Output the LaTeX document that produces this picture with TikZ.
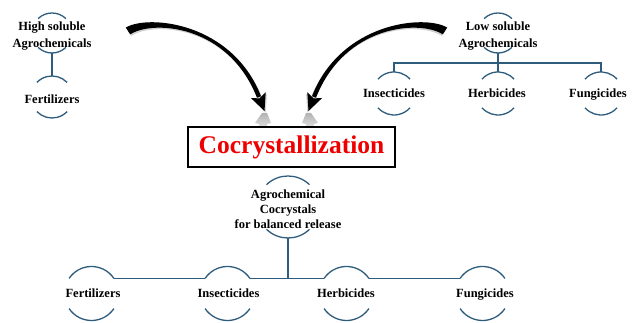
\documentclass[tikz,border=0pt]{standalone}
\usepackage{fontspec}
\setmainfont{Liberation Serif}
\usetikzlibrary{shadows}
\definecolor{arcblue}{RGB}{46,92,125}
\definecolor{cred}{RGB}{238,0,0}
\tikzset{
  lbl/.style={font=\bfseries\fontsize{12.5}{17}\selectfont, align=center, text=black, inner sep=0pt},
  lblb/.style={lbl, anchor=base},
  lblt/.style={font=\bfseries\fontsize{12.5}{15}\selectfont, align=center, text=black, inner sep=0pt},
  arcline/.style={draw=arcblue, line width=1.3pt},
  conn/.style={draw=arcblue, line width=1.3pt},
  refl/.style={top color=gray!60, bottom color=white, draw=none},
}
% #1 name, #2 x, #3 y, #4 radius, #5 half-opening angle from horizontal
\newcommand\ringpair[5]{%
  \coordinate (#1) at (#2,#3);
  \coordinate (#1-t) at ([yshift=#4pt]#1);
  \coordinate (#1-b) at ([yshift=-#4pt]#1);
  \coordinate (#1-r) at ([shift={(#5:#4pt)}]#1);
  \coordinate (#1-l) at ([shift={(180-#5:#4pt)}]#1);
  \draw[arcline] (#1-r) arc[start angle=#5, end angle=180-#5, radius=#4pt];
  \draw[arcline] ([shift={(180+#5:#4pt)}]#1) arc[start angle=180+#5, end angle=360-#5, radius=#4pt];
}
\newcommand\arrowbody[1]{%
  \fill[#1] (125.8,295.4) .. controls (148.1,308.9) and (232.0,300.8) .. (261.0,226.8)
     -- (257.0,225.2) .. controls (228.0,299.2) and (151.9,303.1) .. (130.2,288.6) -- cycle;
  \fill[#1] (264.5,212) -- (265.7,230.8) -- (259.5,224.6) -- (250.9,225.0) -- cycle;
}
\newcommand\bigarrow{%
  \begin{scope}[shift={(1.2pt,-1.5pt)}]
    \arrowbody{black!18}
  \end{scope}
  \arrowbody{black}
  \shade[refl] (262,210) -- (267,210) -- (271,200) -- (267,199) -- (267,185) -- (260,185) -- (259,199) -- (255,200) -- cycle;
}
\begin{document}
\begin{tikzpicture}[x=1pt,y=1pt]
\useasboundingbox (0,0) rectangle (632,323);

% curved arrows
\begin{scope}
  \bigarrow
\end{scope}
\begin{scope}[xshift=573pt, xscale=-1]
  \bigarrow
\end{scope}

% central box
\node[draw=black, line width=1.6pt, fill=white, minimum width=207pt, minimum height=40pt,
      inner sep=0pt, drop shadow={opacity=0.35, shadow xshift=1.2pt, shadow yshift=-1.2pt},
      font=\bfseries\fontsize{25.5}{30}\selectfont, text=cred] (cc) at (291.5,176) {Cocrystallization};

% top left group
\ringpair{hs}{52}{290}{20}{46}
\node[lbl] (hsT) at (52,287) {High soluble\\Agrochemicals};
\ringpair{fa}{52}{226}{21}{44}
\node[lblb] (faT) at (52,219.5) {Fertilizers};
\draw[conn] (hs-b) -- (fa-t);

% top right group
\ringpair{ls}{498}{290}{20}{46}
\node[lbl] (lsT) at (498,287) {Low soluble\\Agrochemicals};
\ringpair{ia}{394}{229.5}{21.5}{42}
\node[lblb] (iaT) at (394,225.5) {Insecticides};
\ringpair{ha}{498}{229.5}{21.5}{42}
\node[lblb] (haT) at (497,225.5) {Herbicides};
\ringpair{fu}{601}{229.5}{21.5}{42}
\node[lblb] (fuT) at (598,225.5) {Fungicides};
\coordinate (lsbar) at (498,260);
\draw[conn] (ls-b) -- (lsbar);
\draw[conn] (ia-t) |- (lsbar);
\draw[conn] (fu-t) |- (lsbar);
\draw[conn] (ha-t) -- (lsbar);

% bottom group
\ringpair{ag}{288}{116}{31}{46}
\node[lblt] (agT) at (288,114) {Agrochemical\\Cocrystals\\for balanced release};
\ringpair{fb}{91.5}{29.5}{27}{34}
\node[lblb] (fbT) at (93,25.5) {Fertilizers};
\ringpair{ib}{227.5}{29.5}{27}{34}
\node[lblb] (ibT) at (228.5,25.5) {Insecticides};
\ringpair{hb}{346.5}{29.5}{27}{34}
\node[lblb] (hbT) at (346,25.5) {Herbicides};
\ringpair{gb}{482.5}{29.5}{27}{34}
\node[lblb] (gbT) at (485,25.5) {Fungicides};
\draw[conn] (fb-r) -- (ib-l);
\draw[conn] (ib-r) -- (hb-l);
\draw[conn] (hb-r) -- (gb-l);
\draw[conn] (ag-b) -- (ag-b |- ib-r);
\end{tikzpicture}
\end{document}
